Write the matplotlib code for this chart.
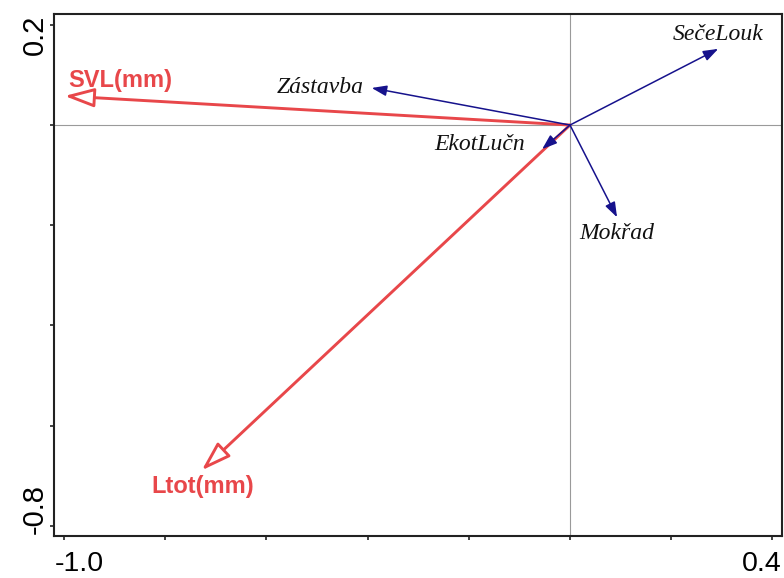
"""Biplot of response (red) and environmental (blue) arrows."""

import matplotlib
matplotlib.use("Agg")
import matplotlib.pyplot as plt
from matplotlib.patches import FancyArrowPatch

# environmental variables: arrow tips
env_names = ["Zástavba", "SečeLouk", "EkotLučn", "Mokřad"]
env_x = [-0.392, 0.293, -0.055, 0.093]
env_y = [0.074, 0.152, -0.048, -0.184]

# response variables: arrow tips
resp_names = ["SVL(mm)", "Ltot(mm)"]
resp_x = [-0.999, -0.728]
resp_y = [0.058, -0.689]

x_ticks = [-1.0, -0.8, -0.6, -0.4, -0.2, 0.0, 0.2, 0.4]
y_ticks = [0.2, 0.0, -0.2, -0.4, -0.6, -0.8]
x_labels = ["-1.0", "0.4"]
y_labels = ["0.2", "-0.8"]

# label placement (offset points from tip, ha)
env_lab = [((-6, 0.5), "right"), ((0, 10), "center"),
           ((-12, 3.5), "right"), ((0, -11.5), "center")]
resp_lab = [((40, 11.5), "center"), ((0.7, -11.5), "center")]

BLUE = "#16128c"
RED = "#e8474a"

fig = plt.figure(figsize=(7.84, 5.78), dpi=100)
ax = fig.add_axes([0.0689, 0.0727, 0.9285, 0.9031])
ax.set_xlim(-1.020, 0.419)
ax.set_ylim(-0.820, 0.2216)

ax.axhline(0, color="#9a9a9a", lw=0.8, zorder=1)
ax.axvline(0, color="#9a9a9a", lw=0.8, zorder=1)

for name, x, y, (off, ha) in zip(env_names, env_x, env_y, env_lab):
    ax.add_patch(FancyArrowPatch((0, 0), (x, y),
                                 arrowstyle="-|>,head_length=9,head_width=3.2",
                                 ec=BLUE, fc=BLUE, lw=1.1, shrinkA=0, shrinkB=0,
                                 zorder=3))
    ax.annotate(name, (x, y), xytext=off, textcoords="offset points",
                ha=ha, va="center", fontsize=17, style="italic",
                family="Liberation Serif", color="#111111")

for name, x, y, (off, ha) in zip(resp_names, resp_x, resp_y, resp_lab):
    ax.add_patch(FancyArrowPatch((0, 0), (x, y),
                                 arrowstyle="-|>,head_length=18,head_width=5.8",
                                 ec=RED, fc="white", lw=2.1, shrinkA=0, shrinkB=0,
                                 zorder=2))
    ax.annotate(name, (x, y), xytext=off, textcoords="offset points",
                ha=ha, va="center", fontsize=17, fontweight="bold",
                family="Liberation Sans", color=RED)

ax.set_xticks(x_ticks)
ax.set_yticks(y_ticks)
ax.set_xticklabels([])
ax.set_yticklabels([])
ax.tick_params(direction="out", length=3, width=1.2, color="#222222")
for s in ax.spines.values():
    s.set_linewidth(1.5)
    s.set_color("#222222")

# tick labels, pulled in to the axes edges as in the original
ax.annotate(x_labels[0], (x_ticks[0], 0), xycoords=("data", "axes fraction"),
            xytext=(-7, -25.5), textcoords="offset points", ha="left",
            va="baseline", fontsize=20.5, family="Liberation Sans")
ax.annotate(x_labels[1], (x_ticks[-1], 0), xycoords=("data", "axes fraction"),
            xytext=(7, -25.5), textcoords="offset points", ha="right",
            va="baseline", fontsize=20.5, family="Liberation Sans")
ax.annotate(y_labels[0], (0, y_ticks[0]), xycoords=("axes fraction", "data"),
            xytext=(-4, 7), textcoords="offset points", ha="right", va="top",
            rotation=90, fontsize=21, family="Liberation Sans")
ax.annotate(y_labels[1], (0, y_ticks[-1]), xycoords=("axes fraction", "data"),
            xytext=(-4, -6), textcoords="offset points", ha="right", va="bottom",
            rotation=90, fontsize=21, family="Liberation Sans")

fig.savefig("out.png", dpi=100)
